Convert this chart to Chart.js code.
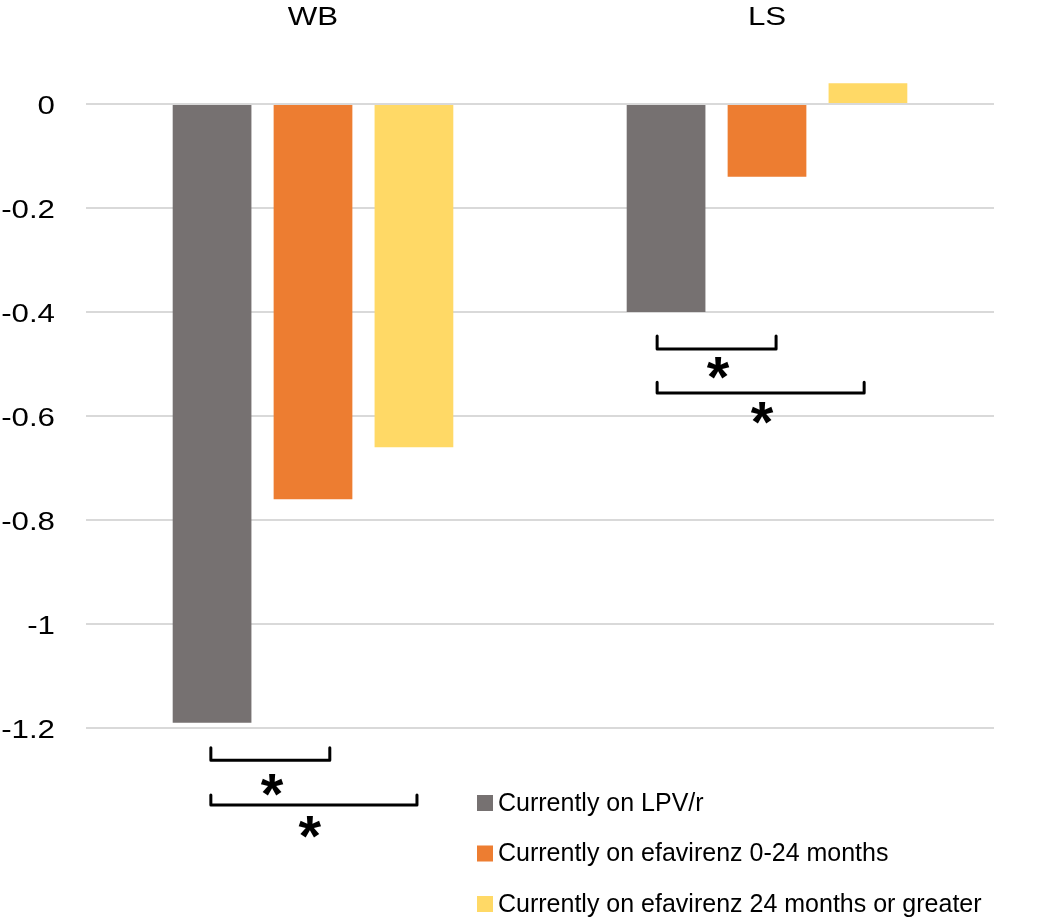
<html>
<head>
<script src="https://cdn.jsdelivr.net/npm/chart.js@4"></script>
<style>
  body { margin: 0; background: #fff; }
</style>
</head>
<body>
<canvas id="chart" width="1050" height="918"></canvas>
<script>
// data
var categories = ['WB', 'LS'];
var seriesNames = [
  'Currently on LPV/r',
  'Currently on efavirenz 0-24 months',
  'Currently on efavirenz 24 months or greater'
];
var lpv = [-1.19, -0.40];
var efv0to24 = [-0.76, -0.14];
var efv24plus = [-0.66, 0.04];
var yTicks = [0, -0.2, -0.4, -0.6, -0.8, -1, -1.2];

var colors = ['#767171', '#ED7D31', '#FFD966'];

// significance brackets (category index, offsets in category widths, y in axis units)
var brackets = [
  { cat: 0, x0: -0.225, x1: 0.037, yTop: -1.238, yBot: -1.262, starX: -0.09, starY: -1.31 },
  { cat: 0, x0: -0.225, x1: 0.229, yTop: -1.329, yBot: -1.348, starX: -0.007, starY: -1.39 },
  { cat: 1, x0: -0.242, x1: 0.02, yTop: -0.446, yBot: -0.471, starX: -0.108, starY: -0.508 },
  { cat: 1, x0: -0.242, x1: 0.214, yTop: -0.535, yBot: -0.556, starX: -0.011, starY: -0.594 }
];

var FONT = "'Liberation Sans', Arial, sans-serif";
Chart.defaults.font.family = FONT;
Chart.defaults.color = '#000';

// axis text in the original is drawn a bit wide, so stretch it horizontally
function wideText(ctx, txt, x, y, align) {
  ctx.save();
  ctx.translate(x, y);
  ctx.scale(1.25, 1);
  ctx.textAlign = align;
  ctx.fillText(txt, 0, 0);
  ctx.restore();
}

var extras = {
  id: 'extras',
  afterDraw: function(chart) {
    var ctx = chart.ctx;
    var xs = chart.scales.x, ys = chart.scales.y;
    var catW = xs.width / categories.length;
    ctx.save();

    // axis labels
    ctx.fillStyle = '#000';
    ctx.font = '25px ' + FONT;
    ctx.textBaseline = 'alphabetic';
    categories.forEach(function(c, i) {
      wideText(ctx, c, xs.getPixelForValue(i), 25, 'center');
    });
    yTicks.forEach(function(v) {
      wideText(ctx, String(v), 55, ys.getPixelForValue(v) + 10, 'right');
    });

    // brackets and stars
    ctx.strokeStyle = '#000';
    ctx.lineWidth = 3;
    ctx.lineJoin = 'round';
    ctx.lineCap = 'round';
    ctx.font = 'bold 58px ' + FONT;
    ctx.textAlign = 'center';
    brackets.forEach(function(b) {
      var cx = xs.getPixelForValue(b.cat);
      var x0 = cx + b.x0 * catW, x1 = cx + b.x1 * catW;
      var yt = ys.getPixelForValue(b.yTop), yb = ys.getPixelForValue(b.yBot);
      ctx.beginPath();
      ctx.moveTo(x0, yt);
      ctx.lineTo(x0, yb);
      ctx.lineTo(x1, yb);
      ctx.lineTo(x1, yt);
      ctx.stroke();
      var m = ctx.measureText('*');
      var sy = ys.getPixelForValue(b.starY);
      var base = sy - (m.actualBoundingBoxDescent - m.actualBoundingBoxAscent) / 2;
      ctx.fillText('*', cx + b.starX * catW, base);
    });

    // legend, bottom right, stacked
    ctx.font = '25px ' + FONT;
    ctx.textAlign = 'left';
    ctx.textBaseline = 'middle';
    var ly = chart.chartArea.bottom + 75;
    seriesNames.forEach(function(name, i) {
      var y = ly + i * 50.5;
      ctx.fillStyle = colors[i];
      ctx.fillRect(477, y - 8, 16, 16);
      ctx.fillStyle = '#000';
      ctx.fillText(name, 498, y + 1);
    });
    ctx.restore();
  }
};

new Chart(document.getElementById('chart'), {
  type: 'bar',
  data: {
    labels: categories,
    datasets: [
      { label: seriesNames[0], data: lpv, backgroundColor: colors[0] },
      { label: seriesNames[1], data: efv0to24, backgroundColor: colors[1] },
      { label: seriesNames[2], data: efv24plus, backgroundColor: colors[2] }
    ]
  },
  options: {
    responsive: false,
    animation: false,
    devicePixelRatio: 1,
    layout: { padding: { top: 0, right: 56, bottom: 190, left: 0 } },
    datasets: { bar: { barPercentage: 0.78, categoryPercentage: 0.667, borderWidth: 0 } },
    plugins: { legend: { display: false }, tooltip: { enabled: false } },
    scales: {
      x: {
        position: 'top',
        grid: { display: false, drawTicks: false },
        border: { display: false },
        ticks: { display: false },
        afterFit: function(s) { s.height = 52; }
      },
      y: {
        min: -1.2,
        max: 0.1,
        afterBuildTicks: function(s) { s.ticks = yTicks.map(function(v) { return { value: v }; }); },
        afterFit: function(s) { s.width = 86; },
        grid: { color: '#D9D9D9', lineWidth: 2, drawTicks: false },
        border: { display: false },
        ticks: { display: false }
      }
    }
  },
  plugins: [extras]
});
</script>
</body>
</html>
